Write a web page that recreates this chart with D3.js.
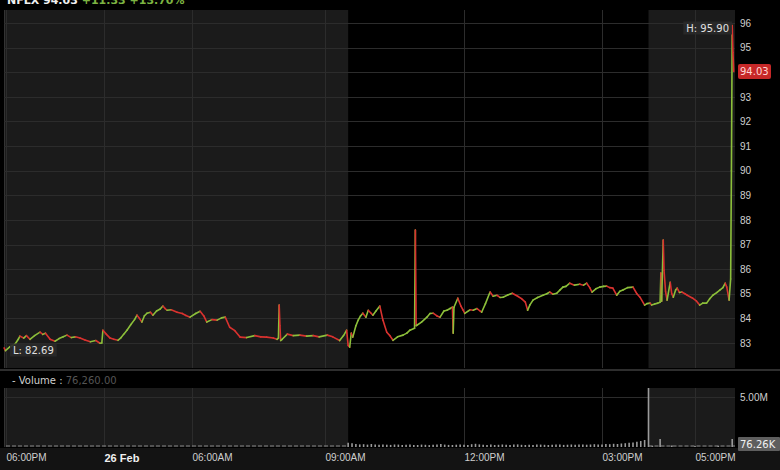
<!DOCTYPE html>
<html><head><meta charset="utf-8">
<script src="https://cdn.jsdelivr.net/npm/d3@7"></script>
<style>
html,body{margin:0;padding:0;background:#000;}
svg{display:block;font-family:"DejaVu Sans",Verdana,sans-serif;}
</style></head>
<body>
<svg id="c" width="780" height="470"></svg>
<script>
// ---------- DATA ----------
const symbol = "NFLX";
const lastPrice = 94.03;
const change = "+11.33";
const changePct = "+13.70%";
const highValue = 95.90;
const lowValue = 82.69;
const lastVolume = "76,260.00";
const volumeBadge = "76.26K";

const priceTimes = [
"25 17:53","25 17:58","25 18:15","25 18:33","25 18:45","25 18:51","25 19:05","25 19:15","25 19:28","25 19:45",
"25 20:05","25 20:15","25 20:25","25 20:42","25 21:00","25 21:15","25 21:30","25 21:44","25 22:00","25 22:15",
"25 22:32","25 22:50","25 23:10","25 23:30","25 23:45","25 23:52","25 23:56","26 00:10","26 00:25","26 00:40",
"26 00:57","26 01:10","26 01:20","26 01:34","26 01:50","26 02:05","26 02:15","26 02:25","26 02:35","26 02:45",
"26 02:56","26 03:10","26 03:20","26 03:35","26 03:50","26 04:01","26 04:10","26 04:18","26 04:35","26 04:59",
"26 05:20","26 05:35","26 05:52","26 06:05","26 06:11","26 06:16","26 06:20","26 06:27","26 06:34","26 06:40",
"26 06:45","26 06:51","26 06:58","26 07:05","26 07:14","26 07:25","26 07:33","26 07:41","26 07:50","26 07:55",
"26 07:57","26 07:58","26 07:59","26 08:00","26 08:02","26 08:09","26 08:17","26 08:26","26 08:35","26 08:44",
"26 08:52","26 09:03","26 09:10","26 09:19","26 09:24","26 09:28","26 09:30","26 09:32","26 09:34","26 09:36",
"26 09:40","26 09:43","26 09:46","26 09:49","26 09:53","26 09:56","26 10:00","26 10:02","26 10:06","26 10:11",
"26 10:15","26 10:20","26 10:24","26 10:28","26 10:34","26 10:41","26 10:46","26 10:50","26 10:56","26 10:57",
"26 10:58","26 10:59","26 11:05","26 11:12","26 11:16","26 11:20","26 11:25","26 11:29","26 11:34","26 11:38",
"26 11:42","26 11:45","26 11:46","26 11:47","26 11:52","26 11:56","26 11:59","26 12:01","26 12:08","26 12:12",
"26 12:17","26 12:21","26 12:23","26 12:28","26 12:34","26 12:38","26 12:43","26 12:47","26 12:51","26 12:57",
"26 13:03","26 13:10","26 13:15","26 13:20","26 13:23","26 13:26","26 13:30","26 13:36","26 13:43","26 13:48",
"26 13:52","26 13:56","26 14:01","26 14:05","26 14:09","26 14:13","26 14:18","26 14:24","26 14:31","26 14:36",
"26 14:40","26 14:44","26 14:47","26 14:52","26 14:57","26 15:02","26 15:06","26 15:10","26 15:14","26 15:19",
"26 15:23","26 15:27","26 15:33","26 15:40","26 15:45","26 15:49","26 15:55","26 15:58","26 16:02","26 16:04",
"26 16:08","26 16:12","26 16:15","26 16:16","26 16:17","26 16:19","26 16:20","26 16:22","26 16:24","26 16:28",
"26 16:30","26 16:32","26 16:35","26 16:37","26 16:40","26 16:43","26 16:47","26 16:50","26 16:57","26 17:02",
"26 17:06","26 17:10","26 17:15","26 17:19","26 17:23","26 17:28","26 17:32","26 17:36","26 17:39","26 17:41",
"26 17:44","26 17:46","26 17:47","26 17:48","26 17:49","26 17:50"
];
const priceValues = [
82.80,82.69,82.85,82.95,83.15,83.28,83.20,83.30,83.15,83.30,
83.44,83.35,83.40,83.15,83.07,83.18,83.25,83.32,83.22,83.25,
83.20,83.12,83.05,83.10,82.99,83.00,83.52,83.35,83.20,83.15,
83.11,83.22,83.35,83.52,83.75,83.95,84.13,84.00,83.85,84.10,
84.21,84.25,84.13,84.30,84.38,84.50,84.40,84.33,84.35,84.25,
84.20,84.12,84.05,84.20,84.29,84.10,83.85,83.95,83.93,84.02,
84.05,83.64,83.50,83.24,83.22,83.30,83.25,83.24,83.20,83.15,
83.20,84.54,83.70,83.10,83.15,83.36,83.30,83.32,83.28,83.30,
83.25,83.32,83.25,83.10,83.30,83.52,82.90,82.83,83.40,83.24,
83.70,83.93,84.10,84.21,84.05,84.33,84.20,84.13,84.30,84.50,
83.93,83.44,83.30,83.11,83.25,83.32,83.40,83.52,83.60,87.59,
83.70,83.72,83.85,84.05,84.20,84.21,84.10,84.05,84.30,84.33,
84.40,84.46,83.40,84.45,84.82,84.50,84.33,84.20,84.35,84.33,
84.40,84.30,84.25,84.60,85.07,84.90,84.94,84.85,84.86,84.95,
85.02,84.90,84.80,84.66,84.33,84.55,84.74,84.85,84.94,85.00,
85.07,84.98,85.02,85.15,85.27,85.30,85.43,85.35,85.39,85.35,
85.43,85.25,85.07,85.20,85.27,85.30,85.31,85.25,85.23,84.94,
85.10,85.15,85.25,85.27,85.00,84.86,84.54,84.60,84.62,84.54,
84.58,84.62,84.66,85.84,84.70,87.18,85.96,85.10,84.74,85.47,
85.00,84.86,85.15,85.23,85.05,85.07,85.00,84.94,84.82,84.70,
84.54,84.62,84.62,84.80,84.94,85.05,85.15,85.25,85.43,85.27,
84.74,85.60,90.00,95.90,94.80,94.03
];

// regular-session volume (thousands), 5-minute bars from 09:30
const regVolumeStart = "26 09:30";
const regVolumeValues = [420,380,300,260,280,240,300,250,220,260,230,210,250,240,200,230,260,210,200,240,
220,190,230,260,300,240,210,200,230,250,220,200,280,320,260,230,210,240,200,220,
250,230,210,240,260,220,200,230,210,250,240,220,200,230,260,240,210,230,250,220,
240,260,230,250,280,240,260,300,280,320,300,350,380,420,460,520,600,700];
const extVolumeTimes = ["26 16:00","26 16:05","26 16:15","26 16:30","26 17:00","26 17:30","26 17:48"];
const extVolumeValues = [5900,120,800,150,100,120,800];

const priceGridTicks = [83,84,85,86,87,88,89,90,91,92,93,94,95,96];
const priceLabelTicks = [83,84,85,86,87,88,89,90,91,92,93,95,96];
const volumeTicks = [5000];
const xTickTimes = ["25 18:00","26 00:00","26 06:00","26 09:00","26 12:00","26 15:00","26 17:00"];
const xTickLabels = ["06:00PM","26 Feb","06:00AM","09:00AM","12:00PM","03:00PM","05:00PM"];
const sessionTimes = ["26 09:30","26 16:00"]; // regular session

// ---------- CHART ----------
const parse = d3.timeParse("%d %H:%M");
const prices = priceTimes.map((t,i)=>({t:parse(t), v:priceValues[i]}));
const regStart = parse(regVolumeStart);
const vols = regVolumeValues.map((v,i)=>({t:d3.timeMinute.offset(regStart, i*5), v}))
  .concat(extVolumeTimes.map((t,i)=>({t:parse(t), v:extVolumeValues[i]})));

const svg = d3.select("#c");
const L = 4, R = 735;
const mainTop = 10, mainBot = 368;
const volTop = 388, volBot = 447;

const x = d3.scaleTime()
  .domain(xTickTimes.map(parse))
  .range([6,104,192,325,464,602,695]);
const y = d3.scaleLinear().domain([83,96]).range([343,23]);
const yv = d3.scaleLinear().domain([0,5000]).range([volBot, volBot-50]);

const s0 = x(parse(sessionTimes[0])), s1 = x(parse(sessionTimes[1]));

// backgrounds
svg.append("rect").attr("x",0).attr("y",0).attr("width",780).attr("height",470).attr("fill","#000");
svg.append("rect").attr("x",0).attr("y",448).attr("width",780).attr("height",22).attr("fill","#131313");
[[mainTop,mainBot],[volTop,volBot]].forEach(([t,b])=>{
  svg.append("rect").attr("x",L).attr("y",t).attr("width",s0-L).attr("height",b-t).attr("fill","#1b1b1b");
  svg.append("rect").attr("x",s1).attr("y",t).attr("width",R-s1).attr("height",b-t).attr("fill","#1b1b1b");
});
// separators
svg.append("rect").attr("x",0).attr("y",369).attr("width",780).attr("height",2).attr("fill","#2e2e2e");
svg.append("rect").attr("x",L).attr("y",372).attr("width",776).attr("height",15).attr("fill","#000");
svg.append("line").attr("x1",L+0.5).attr("x2",L+0.5).attr("y1",mainTop).attr("y2",mainBot).attr("stroke","#333");
svg.append("line").attr("x1",L+0.5).attr("x2",L+0.5).attr("y1",volTop).attr("y2",volBot).attr("stroke","#333");

// grid
const grid = svg.append("g").attr("stroke","#2c2c2c").attr("stroke-width",1);
priceGridTicks.forEach(p=>grid.append("line").attr("x1",L).attr("x2",R).attr("y1",Math.round(y(p))+0.5).attr("y2",Math.round(y(p))+0.5));
volumeTicks.forEach(p=>grid.append("line").attr("x1",L).attr("x2",R).attr("y1",Math.round(yv(p))+0.5).attr("y2",Math.round(yv(p))+0.5));
xTickTimes.forEach(t=>{
  const xx = Math.round(x(parse(t)))+0.5;
  grid.append("line").attr("x1",xx).attr("x2",xx).attr("y1",mainTop).attr("y2",mainBot);
  grid.append("line").attr("x1",xx).attr("x2",xx).attr("y1",volTop).attr("y2",volBot);
});

// price axis
const ya = svg.append("g").attr("transform",`translate(${R},0)`)
  .call(d3.axisRight(y).tickValues(priceLabelTicks).tickSize(0).tickPadding(5).tickFormat(d3.format("d")));
ya.select(".domain").remove();
ya.selectAll("text").attr("fill","#cfcfcf").style("font-size","10px");

// volume axis
const va = svg.append("g").attr("transform",`translate(${R},0)`)
  .call(d3.axisRight(yv).tickValues(volumeTicks).tickSize(0).tickPadding(5).tickFormat(d=>(d/1000).toFixed(2)+"M"));
va.select(".domain").remove();
va.selectAll("text").attr("fill","#cfcfcf").style("font-size","10px");

// x axis
const xa = svg.append("g").attr("transform",`translate(0,${volBot+2})`)
  .call(d3.axisBottom(x).tickValues(xTickTimes.map(parse)).tickSize(0).tickPadding(5)
    .tickFormat((d,i)=>xTickLabels[i]));
xa.select(".domain").remove();
xa.selectAll("text").attr("text-anchor","start").attr("dx","0")
  .attr("font-weight",(d,i)=>i===1?"bold":"normal").attr("fill",(d,i)=>i===1?"#f0f0f0":"#cfcfcf")
  .style("font-size",(d,i)=>i===1?"11px":"10px");

// volume: dashed baseline for extended hours
const dash = svg.append("g").attr("stroke","#8a8a8a").attr("stroke-width",1).attr("stroke-dasharray","4,2");
dash.append("line").attr("x1",L+2).attr("x2",s0).attr("y1",volBot-1).attr("y2",volBot-1);
dash.append("line").attr("x1",s1).attr("x2",R).attr("y1",volBot-1).attr("y2",volBot-1);
svg.append("g").selectAll("line").data(vols).join("line")
  .attr("x1",d=>x(d.t)).attr("x2",d=>x(d.t))
  .attr("y1",volBot).attr("y2",d=>yv(d.v))
  .attr("stroke","#9a9a9a").attr("stroke-width",1.6);

// price line segments
const up = "#8cbf3a", dn = "#d9322f";
svg.append("g").selectAll("line").data(d3.pairs(prices)).join("line")
  .attr("x1",d=>x(d[0].t)).attr("y1",d=>y(d[0].v))
  .attr("x2",d=>x(d[1].t)).attr("y2",d=>y(d[1].v))
  .attr("stroke",d=>d[1].v>=d[0].v?up:dn)
  .attr("stroke-width",1.6).attr("stroke-linecap","round");

// H / L labels
function tag(xx, yy, txt, anchor){
  const g = svg.append("g");
  const t = g.append("text").attr("x",xx).attr("y",yy).attr("dy","0.35em").attr("text-anchor",anchor)
    .attr("fill","#e0e0e0").style("font-size","10px").text(txt);
  const bb = t.node().getBBox();
  g.insert("rect","text").attr("x",bb.x-3).attr("y",bb.y-1).attr("width",bb.width+6).attr("height",bb.height+2)
    .attr("fill","#2a2a2a").attr("opacity",0.9);
}
tag(R-6, 28, "H: " + highValue.toFixed(2), "end");
tag(13, 350, "L: " + lowValue.toFixed(2), "start");

// last price badge
const by = y(lastPrice);
svg.append("rect").attr("x",R+3).attr("y",by-7.5).attr("width",33).attr("height",15).attr("rx",2).attr("fill","#c62828");
svg.append("text").attr("x",R+5).attr("y",by).attr("dy","0.35em").attr("fill","#ffd6d6").style("font-size","10px").text(lastPrice.toFixed(2));

// volume badge
const vy = volBot-3;
svg.append("rect").attr("x",R+3).attr("y",vy-7).attr("width",42).attr("height",14).attr("rx",1).attr("fill","#5e5e5e");
svg.append("text").attr("x",R+5).attr("y",vy).attr("dy","0.35em").attr("fill","#f2f2f2").style("font-size","10px").text(volumeBadge);

// volume header
const vh = svg.append("text").attr("x",12).attr("y",384).style("font-size","10px");
vh.append("tspan").attr("fill","#d0d0d0").text("- Volume : ");
vh.append("tspan").attr("fill","#555").text(lastVolume);

// title (partly above the top edge, as in the reference)
const tt = svg.append("text").attr("x",7).attr("y",4).style("font-size","11px").attr("font-weight","bold");
tt.append("tspan").attr("fill","#f0f0f0").text(symbol + " " + lastPrice.toFixed(2) + " ");
tt.append("tspan").attr("fill","#7cb342").text(change + " " + changePct);
</script>
</body></html>
